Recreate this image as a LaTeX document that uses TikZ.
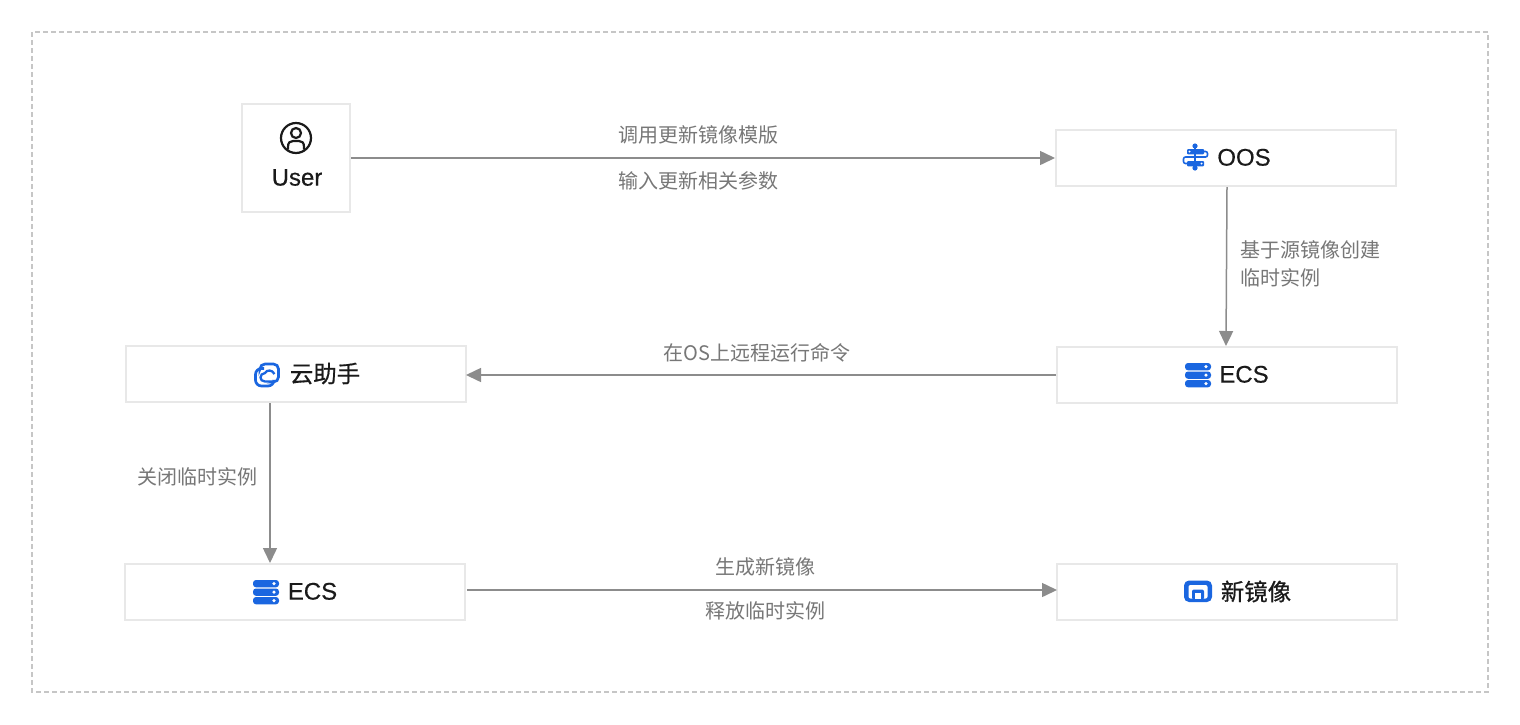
\documentclass[tikz,border=0pt]{standalone}
\usepackage{fontspec}
\setmainfont{Liberation Sans}
\newfontfamily\cjk{Noto Sans CJK SC}
\newfontfamily\cjkmed[FakeBold=0.6]{Noto Sans CJK SC}
\newfontfamily\latinmed[FakeBold=0.4]{Liberation Sans}
\usetikzlibrary{arrows.meta}
\definecolor{boxline}{HTML}{E8E8E8}
\definecolor{frameline}{HTML}{C6C6C6}
\definecolor{arrowc}{HTML}{8C8C8C}
\definecolor{labelc}{HTML}{777777}
\definecolor{darktext}{HTML}{1A1A1A}
\definecolor{iconblue}{HTML}{1A66E0}
\tikzset{
  x=0.5pt,y=-0.5pt,
  boxn/.style={draw=boxline,line width=1pt,fill=white,inner sep=0pt,minimum width=170pt,minimum height=28pt},
  usern/.style={boxn,minimum width=54pt,minimum height=54pt},
  flow/.style={draw=arrowc,line width=0.75pt,-{Triangle[length=7.5pt,width=7pt]}},
  lab/.style={text=labelc,font=\cjk\fontsize{10}{12}\selectfont,inner sep=0pt,text height=8.6pt,text depth=1.4pt},
  title/.style={text=darktext,font=\latinmed\fontsize{12}{14}\selectfont,inner sep=0pt,text height=8.8pt,text depth=0.2pt},
  cjktitle/.style={text=darktext,font=\cjkmed\fontsize{11.7}{14}\selectfont,inner sep=0pt,text height=10pt,text depth=1.6pt},
}
\newcommand{\servericon}[2]{%
  \begin{scope}[shift={(#1,#2)}]
    \foreach \yy in {0,8.5,17}{
      \fill[iconblue,rounded corners=1.5pt] (0,\yy) rectangle (26,\yy+7.3);
      \fill[white] (21,\yy+3.65) circle[radius=1.8];
    }
  \end{scope}}
\begin{document}
\begin{tikzpicture}
\useasboundingbox (0,0) rectangle (1520,724);
\fill[white] (0,0) rectangle (1520,724);
\draw[frameline,line width=0.75pt,dash pattern=on 2.5pt off 1.5pt] (32,32) rectangle (1488,692);

\node[usern] (user) at (296,158) {};
\node[boxn] (oos) at (1226,158) {};
\node[boxn] (ecsa) at (1227,375) {};
\node[boxn] (yun) at (296,374) {};
\node[boxn] (ecsb) at (295,592) {};
\node[boxn] (img) at (1227,592) {};

\draw[flow] (user.east) -- (oos.west);
\draw[flow] ([xshift=0.5pt]oos.south) -- ([xshift=-0.5pt]ecsa.north);
\draw[flow] (ecsa.west) -- ([xshift=-0.5pt,yshift=-0.5pt]yun.east);
\draw[flow] ([xshift=-13pt]yun.south) -- ([xshift=-12.5pt]ecsb.north);
\draw[flow] ([xshift=0.5pt,yshift=1pt]ecsb.east) -- ([xshift=0.5pt,yshift=1pt]img.west);

\node[lab] (l1) at (698,135) {调用更新镜像模版};
\node[lab] (l2) at (698,181) {输入更新相关参数};
\node[lab,anchor=west] (l3) at (1240,250) {基于源镜像创建};
\node[lab,anchor=west] (l4) at (1240,278) {临时实例};
\node[lab] (l5) at (757,353) {在OS上远程运行命令};
\node[lab] (l6) at (197,477) {关闭临时实例};
\node[lab] (l7) at (765,567) {生成新镜像};
\node[lab] (l8) at (765,611) {释放临时实例};

\node[title] (tuser) at (297,177) {User};
\node[title] (toos) at (1244,157) {OOS};
\node[title] (tecsa) at (1244,374) {ECS};
\node[title] (tecsb) at (312.5,591) {ECS};
\node[cjktitle] (tyun) at (325,374) {云助手};
\node[cjktitle] (timg) at (1256,592) {新镜像};

% user icon
\begin{scope}[line width=1.1pt]
  \draw[darktext] (296,138) circle[radius=15];
  \draw[darktext] (296,133) circle[radius=5];
  \draw[darktext] (288,149.5) -- (288,147) .. controls (288,142.5) and (290,141) .. (293,141) -- (299,141) .. controls (302,141) and (304,142.5) .. (304,147) -- (304,149.5);
\end{scope}

% OOS icon
\begin{scope}
  \draw[iconblue,line width=0.9pt] (1195,144.5) -- (1195,169.5);
  \fill[iconblue] (1195,146) circle[radius=2.6];
  \fill[iconblue] (1195,168) circle[radius=2.6];
  \draw[iconblue,line width=0.8pt,rounded corners=1pt] (1203,151.5) -- (1207.5,151.5) -- (1207.5,157) -- (1183.5,157) -- (1183.5,163.5) -- (1188,163.5);
  \fill[iconblue,rounded corners=0.5pt] (1187,149) rectangle (1204,154.3);
  \fill[iconblue,rounded corners=0.5pt] (1187,161) rectangle (1204,166.3);
  \fill[white] (1189.5,151.6) circle[radius=1.1];
  \fill[white] (1201.5,163.6) circle[radius=1.1];
\end{scope}

% server icons
\servericon{1185}{363}
\servericon{253}{580}

% cloud assistant icon
\begin{scope}[line width=1.35pt]
  \draw[iconblue,rounded corners=2.5pt] (260,368) -- (260,364) -- (278.5,364) -- (278.5,382) -- (274,382);
  \draw[iconblue,rounded corners=3pt] (264,368.5) -- (255.5,368.5) -- (255.5,386) -- (274,386) -- (274,381);
  \draw[iconblue,line width=1.15pt] (274,381.5) -- (265,381.5) .. controls (259,381.5) and (259,373.5) .. (265,373) .. controls (267,369.5) and (272,369.5) .. (274.5,374);
\end{scope}

% image icon
\begin{scope}[shift={(1184,580.5)}]
  \fill[iconblue,rounded corners=2.5pt] (0,0) rectangle (28,21.5);
  \fill[white,rounded corners=1pt] (4.5,4.5) rectangle (23.5,18);
  \fill[iconblue,rounded corners=1pt] (8,9) rectangle (20,19);
  \fill[white] (11,12) rectangle (17,18);
\end{scope}
\end{tikzpicture}
\end{document}
